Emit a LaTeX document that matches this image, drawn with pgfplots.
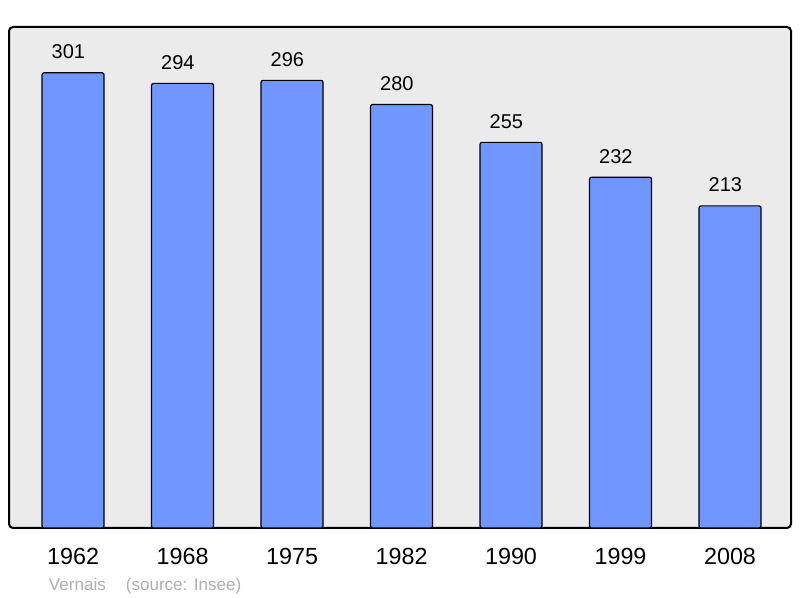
\documentclass[border=0pt]{standalone}
\usepackage{pgfplots}
\pgfplotsset{compat=1.18}
\usepackage{fontspec}
\setmainfont{Liberation Sans}
\definecolor{barblue}{HTML}{6F97FF}
\definecolor{bggray}{HTML}{EBEBEB}
\definecolor{srcgray}{HTML}{B0B0B0}
\begin{document}
\begin{tikzpicture}[x=1pt,y=1pt]
\path[fill=white] (0,0) rectangle (600,448.5);
\draw[fill=bggray,line width=1.5pt,rounded corners=3pt] (6.75,52.5) rectangle (593.25,428.25);
\begin{axis}[
  at={(6.75pt,52.5pt)}, anchor=south west,
  scale only axis, width=586.5pt, height=375.75pt,
  xmin=-0.585, xmax=6.557, ymin=0, ymax=331.3,
  axis line style={draw=none},
  major tick length=0pt,
  ytick=\empty,
  xtick=data,
  xticklabels={1962,1968,1975,1982,1990,1999,2008},
  xticklabel style={font=\fontsize{17.5}{20}\selectfont, yshift=-12pt},
  /pgf/number format/assume math mode=true,
  clip=false,
]
\addplot[ybar, bar width=0.566, fill=barblue, draw=black, line width=0.9pt, rounded corners=1.5pt,
  nodes near coords, nodes near coords style={font=\fontsize{15}{17}\selectfont, anchor=south, yshift=6.5pt, xshift=-3.5pt, text=black}]
  coordinates {(0,301) (1,294) (2,296) (3,280) (4,255) (5,232) (6,213)};
\end{axis}
\node[anchor=base west, text=srcgray, font=\fontsize{12.8}{15}\selectfont, inner sep=0pt] at (36.5,5.5) {Vernais\hspace{15pt}(source: Insee)};
\end{tikzpicture}
\end{document}
